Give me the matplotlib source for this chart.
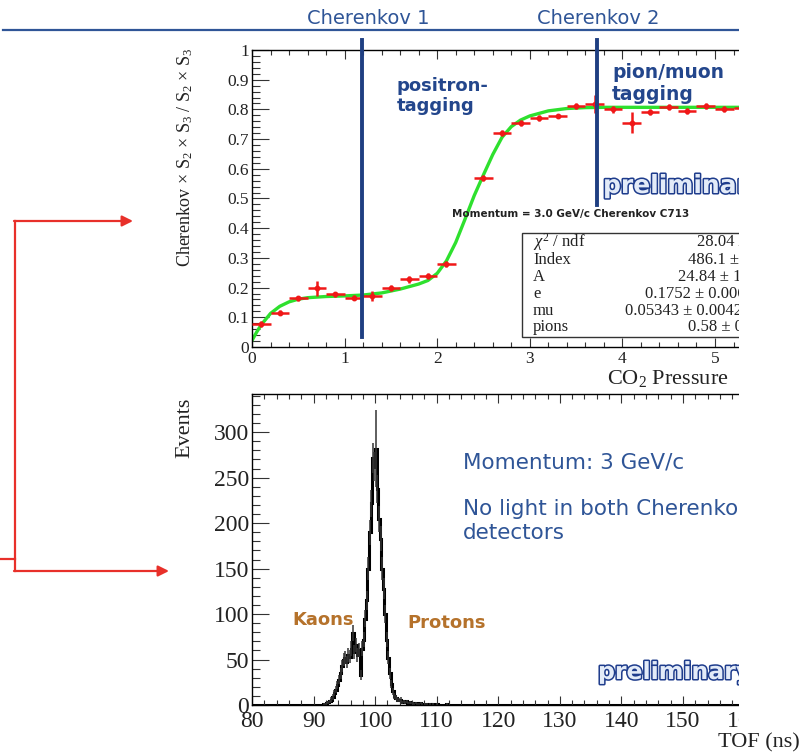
import numpy as np
import matplotlib

matplotlib.use("Agg")
import matplotlib.pyplot as plt
from matplotlib import patheffects
from matplotlib.patches import Rectangle
from matplotlib.ticker import MultipleLocator

# top panel: Cherenkov efficiency vs CO2 pressure (3 GeV/c)
pressure = [0.1, 0.3, 0.5, 0.7, 0.9, 1.1, 1.3, 1.5, 1.7, 1.9, 2.1, 2.5, 2.7,
            2.9, 3.1, 3.3, 3.5, 3.7, 3.9, 4.1, 4.3, 4.5, 4.7, 4.9, 5.1, 5.3]
efficiency = [0.076, 0.115, 0.164, 0.198, 0.178, 0.166, 0.172, 0.200, 0.228,
              0.239, 0.279, 0.568, 0.720, 0.755, 0.770, 0.778, 0.811, 0.818,
              0.800, 0.755, 0.792, 0.809, 0.796, 0.811, 0.800, 0.805]
efficiency_err = [0.010, 0.008, 0.008, 0.025, 0.008, 0.008, 0.018, 0.010,
                  0.012, 0.010, 0.010, 0.010, 0.010, 0.010, 0.010, 0.008,
                  0.010, 0.030, 0.012, 0.035, 0.010, 0.010, 0.010, 0.010,
                  0.010, 0.010]

# fitted curve
fit_pressure = [0.0, 0.05, 0.1, 0.2, 0.3, 0.4, 0.5, 0.6, 0.8, 1.0, 1.2, 1.4,
                1.6, 1.8, 1.9, 2.0, 2.1, 2.2, 2.3, 2.4, 2.5, 2.6, 2.7, 2.8,
                2.9, 3.0, 3.2, 3.4, 3.6, 3.8, 4.0, 5.0, 6.0]
fit_value = [0.022, 0.050, 0.075, 0.113, 0.137, 0.152, 0.161, 0.166, 0.170,
             0.172, 0.175, 0.182, 0.195, 0.212, 0.224, 0.248, 0.290, 0.352,
             0.430, 0.510, 0.580, 0.648, 0.706, 0.742, 0.764, 0.778, 0.795,
             0.803, 0.806, 0.807, 0.807, 0.807, 0.807]

cherenkov_1 = 1.19
cherenkov_2 = 3.73

stats_names = ["$\\chi^2$ / ndf", "Index", "A", "e", "mu", "pions"]
stats_values = ["28.04 / 22", "486.1 \u00b1 38.2", "24.84 \u00b1 1.92",
                "0.1752 \u00b1 0.0063", "0.05343 \u00b1 0.00421", "0.58 \u00b1 0.02"]

# bottom panel: TOF histogram, 0.25 ns bins starting at 91 ns
tof_start = 91.0
tof_bin = 0.25
tof_counts = [0, 0, 1, 1, 2, 3, 4, 6,
              9, 13, 17, 22, 28, 35, 43, 50,
              52, 47, 55, 53, 62, 79, 58, 66,
              55, 60, 33, 62, 72, 95, 115, 150,
              190, 222, 272, 262, 282, 238, 205, 183,
              150, 128, 100, 72, 52, 35, 23, 15,
              10, 8, 6, 5, 6, 3, 4, 3,
              4, 2, 3, 2, 2, 1, 2, 1,
              1, 2, 1, 0, 1, 1, 0, 1,
              0, 1, 0, 0, 1, 0, 0, 0,
              0, 0, 1, 0]
tof_peak_err = 42

SERIF = "Liberation Serif"
SANS = "DejaVu Sans"
BLUE = "#2f5597"
DARK_BLUE = "#23468c"
LINE_BLUE = "#1f3f82"
ORANGE = "#b5722b"

plt.rcParams["mathtext.fontset"] = "custom"
plt.rcParams["mathtext.rm"] = SERIF
plt.rcParams["mathtext.it"] = SERIF + ":italic"

W, H = 806, 753
fig = plt.figure(figsize=(W / 100, H / 100), dpi=100)


def px_axes(left, top, right, bottom):
    return fig.add_axes([left / W, 1 - bottom / H, (right - left) / W, (bottom - top) / H])


def root_style(ax, xmaj, xmin, ymaj, ymin, size, xlen, ylen, xpad, xlabel_max):
    ax.xaxis.set_major_locator(MultipleLocator(xmaj))
    ax.xaxis.set_minor_locator(MultipleLocator(xmin))
    ax.yaxis.set_major_locator(MultipleLocator(ymaj))
    ax.yaxis.set_minor_locator(MultipleLocator(ymin))
    ax.tick_params(which="both", direction="in", top=True, right=True,
                   color="#333333", width=0.8)
    ax.tick_params(axis="y", which="major", length=ylen, pad=2)
    ax.tick_params(axis="y", which="minor", length=ylen * 0.5)
    ax.tick_params(axis="x", which="major", length=xlen, pad=xpad)
    ax.tick_params(axis="x", which="minor", length=xlen * 0.5)
    ax.tick_params(labelsize=size, labelcolor="#222222")
    ax.figure.canvas.draw()
    for tick in ax.xaxis.get_major_ticks():
        tick.label1.set_family(SERIF)
        if tick.get_loc() > xlabel_max:
            tick.label1.set_visible(False)
    for lab in ax.get_yticklabels():
        lab.set_family(SERIF)
    for sp in ax.spines.values():
        sp.set_linewidth(1.0)


# ---- top panel ----
ax1 = px_axes(252, 50, 252 + 6 * 92.6, 347)
ax1.set_xlim(0, 6)
ax1.set_ylim(0, 1)
ax1.plot(fit_pressure, fit_value, color="#2ee02e", lw=2.4, zorder=2)
ax1.errorbar(pressure, efficiency, xerr=0.1, yerr=efficiency_err, fmt="o",
             ms=3.2, color="#f01818", elinewidth=1.8, capsize=0, zorder=3)
ax1.plot([cherenkov_1, cherenkov_1], [0.034, 1.034], color=LINE_BLUE, lw=2.8,
         clip_on=False, zorder=4)
ax1.plot([cherenkov_2, cherenkov_2], [0.478, 1.034], color=LINE_BLUE, lw=2.8,
         clip_on=False, zorder=4)
ax1.yaxis.set_major_formatter(lambda v, pos: f"{v:g}")
root_style(ax1, 1, 0.2, 0.1, 0.02, 12.5, 6.5, 12, 3, 5.5)

# ---- bottom panel ----
ax2 = px_axes(252, 394, 252 + 90 * 6.157, 705)
edges = np.arange(80, 170 + tof_bin / 2, tof_bin)
counts = np.zeros(len(edges) - 1)
i0 = int(round((tof_start - 80) / tof_bin))
counts[i0:i0 + len(tof_counts)] = tof_counts
ax2.stairs(counts, edges, color="black", lw=2.2)
centers = edges[:-1] + tof_bin / 2
tc = np.array(tof_counts, dtype=float)
err = np.sqrt(tc)
err[np.argmax(tc)] = tof_peak_err
sel = tc > 0
ax2.errorbar(centers[i0:i0 + len(tc)][sel], tc[sel], yerr=err[sel], fmt="none",
             ecolor="#333333", elinewidth=1.1)
ax2.set_xlim(80, 170)
ax2.set_ylim(0, 342)
root_style(ax2, 10, 2, 50, 10, 17, 6.5, 12, 4, 165)

# ---- overlay in pixel coordinates ----
ov = fig.add_axes([0, 0, 1, 1], zorder=10)
ov.set_xlim(0, W)
ov.set_ylim(H, 0)
ov.axis("off")
ov.patch.set_alpha(0)

ov.plot([3, 738], [30, 30], color=BLUE, lw=1.6, zorder=0.5)
ov.text(368, 18, "Cherenkov 1", color=BLUE, fontsize=14, family=SANS,
        ha="center", va="center", zorder=0.5)
ov.text(598, 18, "Cherenkov 2", color=BLUE, fontsize=14, family=SANS,
        ha="center", va="center", zorder=0.5)

ov.text(397, 96, "positron-\ntagging", color=DARK_BLUE, fontsize=13,
        weight="bold", family=SANS, ha="left", va="center", linespacing=1.2,
        zorder=0.5)
ov.text(612, 83, "pion/muon\ntagging", color=DARK_BLUE, fontsize=13.5,
        weight="bold", family=SANS, ha="left", va="center", linespacing=1.2,
        zorder=0.5)

outline = [patheffects.Stroke(linewidth=2.2, foreground="#1e3c8c"),
           patheffects.Normal()]
ov.text(603, 186, "preliminary", color="#e3ebf8", fontsize=18, weight="bold",
        family=SANS, ha="left", va="center", path_effects=outline, zorder=0.5)
ov.text(598, 672, "preliminary", color="#e3ebf8", fontsize=17, weight="bold",
        family=SANS, ha="left", va="center", path_effects=outline, zorder=0.5)

ov.text(571, 214, "Momentum = 3.0 GeV/c Cherenkov C713", fontsize=7.5,
        weight="bold", family=SANS, color="#222222", ha="center", va="center",
        zorder=0.5)

# stats box
ov.add_patch(Rectangle((522, 233), 290, 104, facecolor="white",
                       edgecolor="#333333", lw=1.0, zorder=0.4))
stats_rows = [242, 260, 277, 294, 311, 327]
stats_x = [697, 688, 678, 645, 625, 688]
for name, val, y, x in zip(stats_names, stats_values, stats_rows, stats_x):
    ov.text(533, y, name, fontsize=12, family=SERIF, color="#222222",
            ha="left", va="center", zorder=0.5)
    ov.text(x, y, val, fontsize=12, family=SERIF, color="#222222",
            ha="left", va="center", zorder=0.5)

# axis titles
ov.text(185, 48, "Cherenkov \u00d7 S$_2$ \u00d7 S$_3$ / S$_2$ \u00d7 S$_3$",
        rotation=90, fontsize=13, family=SERIF, color="#222222",
        ha="center", va="top", zorder=0.5)
ov.text(607, 378, "CO$_2$ Pressure", fontsize=16, family=SERIF,
        color="#222222", ha="left", va="center", zorder=0.5)
ov.text(185, 398, "Events", rotation=90, fontsize=16, family=SERIF,
        color="#222222", ha="center", va="top", zorder=0.5)

# annotations on the TOF panel
ov.text(463, 462, "Momentum: 3 GeV/c", color=BLUE, fontsize=15.5, family=SANS,
        ha="left", va="center", zorder=0.5)
ov.text(463, 521, "No light in both Cherenkov\ndetectors", color=BLUE,
        fontsize=15.5, family=SANS, ha="left", va="center", linespacing=1.25,
        zorder=0.5)
ov.text(292, 620, "Kaons", color=ORANGE, fontsize=13, weight="bold",
        family=SANS, ha="left", va="center", zorder=0.5)
ov.text(407, 623, "Protons", color=ORANGE, fontsize=13, weight="bold",
        family=SANS, ha="left", va="center", zorder=0.5)

# red arrows on the left
red = "#e8302a"
ov.plot([15, 15], [221, 571], color=red, lw=1.6, zorder=0.5)
ov.plot([0, 15], [559, 559], color=red, lw=1.6, zorder=0.5)
ov.annotate("", xy=(133, 221), xytext=(14, 221),
            arrowprops=dict(arrowstyle="-|>", color=red, lw=1.6,
                            mutation_scale=16, shrinkA=0, shrinkB=0), zorder=0.5)
ov.annotate("", xy=(169, 571), xytext=(14, 571),
            arrowprops=dict(arrowstyle="-|>", color=red, lw=1.6,
                            mutation_scale=16, shrinkA=0, shrinkB=0), zorder=0.5)

# the slide cuts the plots off at the right
ov.add_patch(Rectangle((739, -5), 80, H + 10, facecolor="white",
                       edgecolor="none", zorder=1))
ov.text(800, 743, "TOF (ns)", fontsize=16, family=SERIF, color="#222222",
        ha="right", va="center", zorder=2)

fig.savefig("out.png", dpi=100)
